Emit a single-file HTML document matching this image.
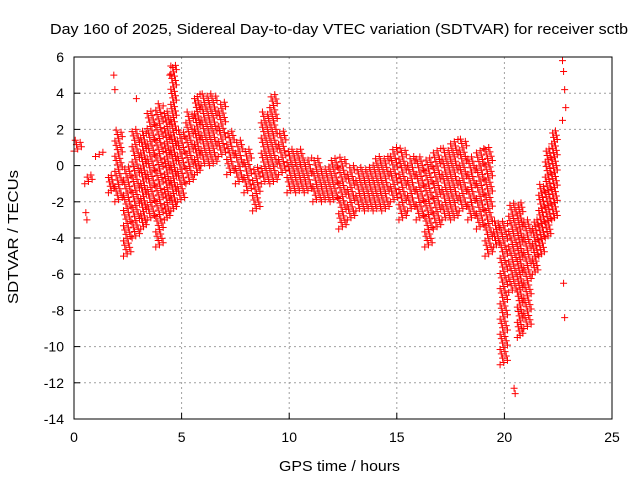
<!DOCTYPE html>
<html><head><meta charset="utf-8"><style>
body{margin:0;background:#fff;font-family:"Liberation Sans",sans-serif}
svg text{font-family:"Liberation Sans",sans-serif;fill:#000}
</style></head><body>
<svg id="chart" width="640" height="480" xmlns="http://www.w3.org/2000/svg">
<rect width="640" height="480" fill="#fff"/>
<text x="50" y="34" font-size="15" textLength="578" lengthAdjust="spacingAndGlyphs">Day 160 of 2025, Sidereal Day-to-day VTEC variation (SDTVAR) for receiver sctb</text>
<text x="279" y="471" font-size="15" textLength="121" lengthAdjust="spacingAndGlyphs">GPS time / hours</text>
<text transform="translate(18,304) rotate(-90)" font-size="15" textLength="134" lengthAdjust="spacingAndGlyphs">SDTVAR / TECUs</text>
<g id="grid"></g><g id="ticks"></g><g id="marks"></g>
<rect x="74" y="57" width="538" height="362" fill="none" stroke="#000" stroke-width="1"/>
</svg>
<script>
const xTicks=[0,5,10,15,20,25];
const yTicks=[6,4,2,0,-2,-4,-6,-8,-10,-12,-14];
const binT=[0,0.5,1,1.6,1.9,2.3,2.7,3.1,3.4,3.8,4.2,4.5,4.8,5.2,5.6,5.9,6.3,6.7,7.1,7.5,7.9,8.3,8.7,9.1,9.5,9.9,10.3,10.7,11.1,11.5,11.9,12.3,12.7,13.1,13.5,13.9,14.3,14.7,15.1,15.5,15.9,16.3,16.7,17.1,17.5,17.9,18.3,18.7,19.1,19.5,19.8,20.2,20.6,20.9,21.3,21.6,21.9,22.2];
const binLo=[0.8,-1,0.5,-1.5,-2,-5,-4,-3.5,-3,-4.5,-3,-2.5,-2,-1,-0.5,0,0,0.5,-0.5,-1,-1.5,-2.5,-1,-1,-0.5,-1.5,-1.5,-1.5,-2,-2,-2,-3.5,-3,-2.5,-2.5,-2.5,-2.5,-2,-3,-2.5,-3,-4.5,-3.5,-3,-3,-2.5,-3,-3.5,-5,-4.5,-11,-7,-9.5,-9,-6,-5,-4,-3];
const binHi=[1.5,-0.5,0.8,-0.5,2,0,2,2,3,3.5,3,5.6,2,3,4,4,4,3.5,2,1.5,1,0,3,4,2,1,1,0.5,0.5,0,0.5,0.5,0,0,0,0.5,0.5,1,1,0.5,0.5,0.5,1,1,1.5,1.5,0.5,1,1,-3,-3,-2,-2,-3,-3,-1,1,2];
const extraT=[0.55,0.6,1.85,1.9,2.9,4.5,4.45,20.45,20.5,22.7,22.75,22.8,22.85,22.7,22.75,22.8];
const extraV=[-2.6,-3.0,5.0,4.2,3.7,5.5,5.0,-12.3,-12.6,5.8,5.2,4.2,3.2,2.5,-6.5,-8.4];
const X0=74,X1=612,Y0=419,Y1=57;
const xs=t=>X0+(t-0)/(25-0)*(X1-X0);
const ys=v=>Y0-(v-(-14))/(6-(-14))*(Y0-Y1);
const NS="http://www.w3.org/2000/svg";
const g=document.getElementById('grid'),tk=document.getElementById('ticks'),mk=document.getElementById('marks');
function el(tag,attrs,parent){const e=document.createElementNS(NS,tag);for(const k in attrs)e.setAttribute(k,attrs[k]);parent.appendChild(e);return e;}
xTicks.forEach(t=>{
 const x=xs(t);
 if(t>0&&t<25){const l=el('line',{x1:x,x2:x,y1:Y1,y2:Y0,stroke:'#a0a0a0','stroke-dasharray':'2,3'},g);
 
 }
 const m=el('line',{x1:x,x2:x,y1:Y0,y2:Y0-6,stroke:'#000'},tk);
 
 
 const s=el('text',{x:x,y:Y0+23,'font-size':14,'text-anchor':'middle'},tk);s.textContent=t;
 
 
});
yTicks.forEach(v=>{
 const y=ys(v);
 if(v>-14&&v<6){const l=el('line',{x1:X0,x2:X1,y1:y,y2:y,stroke:'#a0a0a0','stroke-dasharray':'2,3'},g);
 
 }
 const m=el('line',{x1:X0,x2:X0+6,y1:y,y2:y,stroke:'#000'},tk);
 
 
 const s=el('text',{x:X0-10,y:y+5,'font-size':14,'text-anchor':'end'},tk);s.textContent=v;
 
 
});
function plus(t,v){
 const x=xs(t),y=ys(v);
 const p=el('path',{d:`M${x-3.5} ${y}h7M${x} ${y-3.5}v7`,stroke:'#f00','stroke-width':1},mk);
 
 
}
binT.forEach((t,i)=>{
 const lo=binLo[i],hi=binHi[i];
 const w=(i+1<binT.length?Math.min(binT[i+1]-t,0.4):0.3);
 let k=0;
 for(let v=lo;v<=hi+0.001;v+=0.12){
  const dt=((k*3)%7)/7*w;
  plus(t+dt,v);k++;
 }
});
extraT.forEach((t,i)=>plus(t,extraV[i]));
</script>
</body></html>
